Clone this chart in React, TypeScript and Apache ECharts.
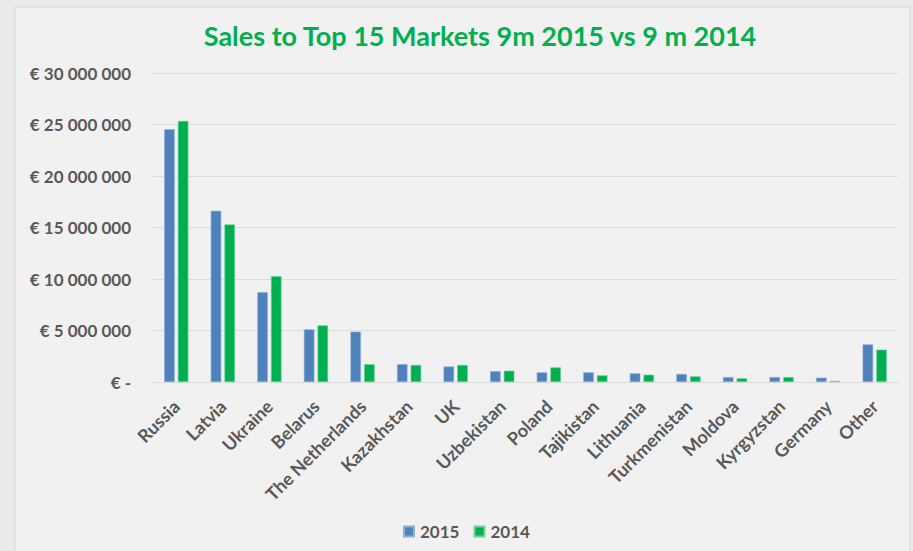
import React, { useEffect, useRef } from "react";
import * as echarts from "echarts";

const categories = [
  "Russia", "Latvia", "Ukraine", "Belarus", "The Netherlands", "Kazakhstan", "UK",
  "Uzbekistan", "Poland", "Tajikistan", "Lithuania", "Turkmenistan", "Moldova",
  "Kyrgyzstan", "Germany", "Other",
];
const sales2015 = [
  24540000, 16620000, 8730000, 5110000, 4890000, 1720000, 1500000, 1050000,
  940000, 940000, 840000, 780000, 480000, 480000, 420000, 3650000,
];
const sales2014 = [
  25350000, 15300000, 10280000, 5500000, 1720000, 1660000, 1660000, 1100000,
  1420000, 650000, 710000, 550000, 360000, 480000, 100000, 3140000,
];
const seriesNames = ["2015", "2014"];
const titleText = "Sales to Top 15 Markets 9m 2015 vs 9 m 2014";

const FONT = "Lato, 'Open Sans', sans-serif";

function fmt(v: number): string {
  if (v === 0) return "€ -";
  const s = Math.round(v).toString().replace(/\B(?=(\d{3})+(?!\d))/g, " ");
  return "€ " + s;
}

export default function App() {
  const ref = useRef<HTMLDivElement>(null);
  useEffect(() => {
    if (!ref.current) return;
    const chart = echarts.init(ref.current, null, { renderer: "svg" });
    chart.setOption({
      animation: false,
      backgroundColor: "#ebebeb",
      graphic: [
        {
          type: "rect",
          shape: { x: 15, y: 7, width: 895, height: 560 },
          style: { fill: "#f1f1f1", stroke: "#d6d6d6", lineWidth: 1 },
          z: -10,
          silent: true,
        },
      ],
      title: {
        text: titleText,
        left: 475,
        textAlign: "center",
        top: 17,
        textStyle: { color: "#00b050", fontFamily: FONT, fontWeight: "bold", fontSize: 27 },
      },
      legend: {
        data: seriesNames,
        top: 518,
        left: 398,
        itemWidth: 10,
        itemHeight: 10,
        itemGap: 14,
        icon: "rect",
        textStyle: { color: "#595959", fontFamily: FONT, fontWeight: "bold", fontSize: 17, padding: [0, 0, 0, 1] },
      },
      grid: { left: 153, right: 15, top: 73, bottom: 169 },
      xAxis: {
        type: "category",
        data: categories,
        axisLine: { lineStyle: { color: "#d9d9d9" } },
        axisTick: { show: false },
        axisLabel: {
          rotate: 45,
          interval: 0,
          margin: 21,
          color: "#595959",
          fontFamily: FONT,
          fontWeight: "bold",
          fontSize: 18,
        },
      },
      yAxis: {
        type: "value",
        min: 0,
        max: 30000000,
        interval: 5000000,
        axisLine: { show: false },
        axisTick: { show: false },
        splitLine: { lineStyle: { color: "#dcdcdc" } },
        axisLabel: {
          formatter: fmt,
          margin: 22,
          color: "#595959",
          fontFamily: FONT,
          fontWeight: "bold",
          fontSize: 17,
        },
      },
      series: [
        {
          name: seriesNames[0],
          type: "bar",
          data: sales2015,
          barGap: "30%",
          barCategoryGap: "48%",
          itemStyle: { color: "#4f81bd", borderColor: "#8fb0d8", borderWidth: 0.6 },
        },
        {
          name: seriesNames[1],
          type: "bar",
          data: sales2014,
          itemStyle: { color: "#00b050", borderColor: "#6fd39a", borderWidth: 0.6 },
        },
      ],
    });
    return () => chart.dispose();
  }, []);
  return (
    <div
      ref={ref}
      style={{ position: "fixed", left: 0, top: 0, width: 913, height: 551 }}
    />
  );
}
